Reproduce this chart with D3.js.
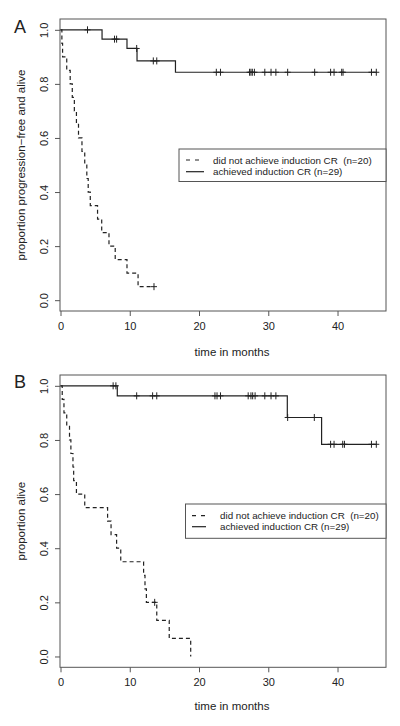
<!DOCTYPE html>
<html><head><meta charset="utf-8">
<script src="https://cdn.jsdelivr.net/npm/d3@7"></script>
<style>
body{margin:0;background:#fff}
text{font-family:"Liberation Sans",Arial,Helvetica,sans-serif;fill:#222}
</style>
</head><body>
<svg id="c" width="400" height="726"></svg>
<script>
// ---------- data ----------
const xTickValues = [0, 10, 20, 30, 40];
const yTickValues = [0, 0.2, 0.4, 0.6, 0.8, 1.0];
const legendLabels = ["did not achieve induction CR  (n=20)", "achieved induction CR (n=29)"];
const yTitles = ["proportion progression\u2212free and alive", "proportion alive"];
const xTitle = "time in months";
const panelLetters = ["A", "B"];

// Panel A – did not achieve CR (dashed)
const aNoCrTimes  = [0.2, 0.3, 0.9, 1.4, 1.7, 2.0, 2.3, 2.6, 3.1, 3.5, 3.8, 4.0, 4.3, 5.35, 5.95, 7.0, 7.9, 9.6, 11.2];
const aNoCrSurv   = [0.95, 0.90, 0.85, 0.80, 0.75, 0.70, 0.65, 0.60, 0.55, 0.50, 0.45, 0.40, 0.35, 0.30, 0.25, 0.20, 0.15, 0.10, 0.05];
const aNoCrCensor = [13.5];
// Panel A – achieved CR (solid)
const aCrTimes  = [6.0, 9.6, 11.05, 16.6];
const aCrSurv   = [0.9655, 0.931, 0.885, 0.843];
const aCrCensor = [3.9, 7.8, 8.1, 11.0, 13.4, 13.9, 22.5, 23.1, 27.3, 27.5, 27.7, 28.0, 29.5, 30.4, 31.1, 32.8, 36.7, 39.0, 39.5, 40.6, 40.8, 44.9, 45.6];

// Panel B – did not achieve CR (dashed)
const bNoCrTimes  = [0.25, 0.5, 0.9, 1.3, 1.5, 1.8, 1.9, 2.3, 3.5, 6.8, 7.3, 8.1, 8.7, 12.0, 12.2, 12.4, 13.9, 15.7, 18.8];
const bNoCrSurv   = [0.95, 0.90, 0.85, 0.80, 0.75, 0.70, 0.65, 0.60, 0.55, 0.50, 0.45, 0.40, 0.35, 0.30, 0.25, 0.20, 0.1333, 0.0667, 0];
const bNoCrCensor = [13.6];
// Panel B – achieved CR (solid)
const bCrTimes  = [8.2, 32.75, 37.7];
const bCrSurv   = [0.963, 0.883, 0.784];
const bCrCensor = [7.6, 8.0, 11.0, 13.3, 13.9, 22.3, 22.6, 23.1, 27.1, 27.5, 27.75, 28.1, 29.5, 30.4, 31.1, 32.8, 36.65, 39.0, 39.5, 40.75, 41.0, 44.9, 45.6];

// ---------- layout ----------
const svg = d3.select("#c");
const panels = [
  {letter: panelLetters[0], yTitle: yTitles[0], top: 19, bottom: 311, letterY: 33,
   legend: {x0: 179, y0: 149, y1: 181.5, textX: 213, sx0: 186, sx1: 204, rows: [160, 171.7]},
   xTitleY: 352, curves: [
     {times: aNoCrTimes, surv: aNoCrSurv, censor: aNoCrCensor, dash: "4,3"},
     {times: aCrTimes, surv: aCrSurv, censor: aCrCensor, dash: null}]},
  {letter: panelLetters[1], yTitle: yTitles[1], top: 375, bottom: 667.3, letterY: 388,
   legend: {x0: 185.5, y0: 504, y1: 538.3, textX: 220, sx0: 192, sx1: 206, rows: [515.7, 526.7]},
   xTitleY: 706, curves: [
     {times: bNoCrTimes, surv: bNoCrSurv, censor: bNoCrCensor, dash: "4,3"},
     {times: bCrTimes, surv: bCrSurv, censor: bCrCensor, dash: null}]}
];
const left = 60, right = 386;
const x = d3.scaleLinear().domain([0, 47]).range([60.5, 386]);

panels.forEach(p => {
  const y = d3.scaleLinear().domain([-0.04, 1.04]).range([p.bottom, p.top]);
  const g = svg.append("g");

  // box
  g.append("rect").attr("x", left).attr("y", p.top).attr("width", right - left).attr("height", p.bottom - p.top)
    .attr("fill", "none").attr("stroke", "#555").attr("stroke-width", 1);

  // x axis
  const xa = g.append("g").attr("transform", `translate(0,${p.bottom})`)
    .call(d3.axisBottom(x).tickValues(xTickValues).tickSize(5).tickPadding(6).tickFormat(d3.format("d")));
  xa.select(".domain").remove();
  xa.selectAll("line").attr("stroke", "#555");
  xa.selectAll("text").attr("font-size", 11).attr("fill", "#222").style("font-family", "Liberation Sans, Arial, sans-serif");

  // y axis
  const ya = g.append("g").attr("transform", `translate(${left},0)`)
    .call(d3.axisLeft(y).tickValues(yTickValues).tickSize(5).tickFormat(d3.format(".1f")));
  ya.select(".domain").remove();
  ya.selectAll("line").attr("stroke", "#555");
  ya.selectAll("text").attr("x", 0).attr("y", 0).attr("dy", 0)
    .attr("transform", "translate(-12.5,0) rotate(-90)").attr("text-anchor", "middle")
    .attr("font-size", 11).attr("fill", "#222").style("font-family", "Liberation Sans, Arial, sans-serif");

  // titles
  g.append("text").attr("x", (x(0) + x(40)) / 2 + 33).attr("y", p.xTitleY + 4).attr("text-anchor", "middle")
    .attr("font-size", 11.5).text(xTitle);
  const cy = (p.top + p.bottom) / 2;
  g.append("text").attr("transform", `translate(25,${cy}) rotate(-90)`).attr("text-anchor", "middle")
    .attr("font-size", 11.5).text(p.yTitle);
  g.append("text").attr("x", 14).attr("y", p.letterY).attr("font-size", 18).text(p.letter);

  // curves
  const line = d3.line().x(d => x(d[0])).y(d => y(d[1])).curve(d3.curveStepAfter);
  p.curves.forEach(c => {
    const pts = [[0, 1]].concat(c.times.map((t, i) => [t, c.surv[i]]));
    const end = Math.max(d3.max(c.censor), d3.max(c.times));
    pts.push([end, c.surv[c.surv.length - 1]]);
    g.append("path").attr("d", line(pts)).attr("fill", "none").attr("stroke", "#222")
      .attr("stroke-width", 1.2).attr("stroke-dasharray", c.dash);
    const survAt = t => { let s = 1; c.times.forEach((tt, i) => { if (tt <= t) s = c.surv[i]; }); return s; };
    c.censor.forEach(t => {
      const cx = x(t), cyy = y(survAt(t));
      g.append("line").attr("x1", cx).attr("x2", cx).attr("y1", cyy - 3.5).attr("y2", cyy + 3.5)
        .attr("stroke", "#222").attr("stroke-width", 1);
      g.append("line").attr("x1", cx - 3).attr("x2", cx + 3).attr("y1", cyy).attr("y2", cyy)
        .attr("stroke", "#222").attr("stroke-width", 1);
    });
  });

  // legend
  const L = p.legend;
  g.append("rect").attr("x", L.x0).attr("y", L.y0).attr("width", right - L.x0).attr("height", L.y1 - L.y0)
    .attr("fill", "#fff").attr("stroke", "#555").attr("stroke-width", 1);
  legendLabels.forEach((lab, i) => {
    g.append("line").attr("x1", L.sx0).attr("x2", L.sx1).attr("y1", L.rows[i]).attr("y2", L.rows[i])
      .attr("stroke", "#222").attr("stroke-width", 1.2).attr("stroke-dasharray", i === 0 ? "4,5" : null);
    g.append("text").attr("x", L.textX).attr("y", L.rows[i] + 3.5).attr("font-size", 9.8)
      .style("white-space", "pre").text(lab);
  });
});
</script>
</body></html>
